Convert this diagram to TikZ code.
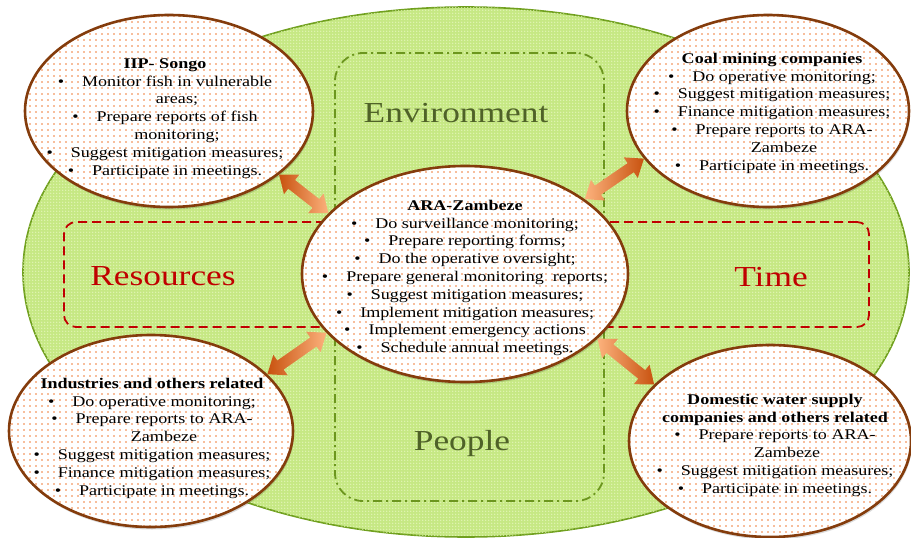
\documentclass[tikz,border=0pt]{standalone}
\usepackage{fontspec}
\setmainfont{Liberation Serif}[FakeStretch=1.22]
\usetikzlibrary{shapes.geometric,calc,patterns,patterns.meta,shadows}

\definecolor{leaf}{RGB}{198,232,132}
\definecolor{leaflight}{RGB}{232,247,192}
\definecolor{leafedge}{RGB}{112,160,30}
\definecolor{olivetext}{RGB}{79,98,40}
\definecolor{dashgreen}{RGB}{108,150,30}
\definecolor{crimson}{RGB}{192,0,0}
\definecolor{rust}{RGB}{132,60,12}
\definecolor{dotorange}{RGB}{240,125,55}
\definecolor{arrdark}{RGB}{200,82,15}
\definecolor{arrmid}{RGB}{248,118,30}
\definecolor{arrlight}{RGB}{252,178,125}

% fine grain for the green field and sparse dots for the actor ellipses
\tikzdeclarepattern{name=leafgrain, type=uncolored,
  bottom left={(-1pt,-1pt)}, top right={(2pt,2pt)}, tile size={(3pt,3pt)},
  code={\fill (0pt,0pt) circle (0.8pt);}}
\tikzdeclarepattern{name=orangedots, type=uncolored,
  bottom left={(-1pt,-1pt)}, top right={(5pt,5pt)}, tile size={(6pt,6pt)},
  code={\fill (0pt,0pt) circle (0.85pt);}}

\newcommand\itm{\textbullet\hspace{18pt}}
\newcommand\cont{\hspace*{24pt}}

% thick double-headed arrow between two border points, shaded from left to right
\newcommand\dblarrow[4]{%
  \path (#1) coordinate (p) (#2) coordinate (q)
    ($(p)!16pt!(q)$) coordinate (hp)
    ($(q)!16pt!(p)$) coordinate (hq);
  \shade[left color=#3, middle color=arrmid, right color=#4]
    (p) -- ($(hp)!12.5pt!90:(q)$) -- ($(hp)!5.5pt!90:(q)$)
    -- ($(hq)!5.5pt!-90:(p)$) -- ($(hq)!12.5pt!-90:(p)$) -- (q)
    -- ($(hq)!12.5pt!90:(p)$) -- ($(hq)!5.5pt!90:(p)$)
    -- ($(hp)!5.5pt!-90:(q)$) -- ($(hp)!12.5pt!-90:(q)$) -- cycle;
}

\begin{document}
\begin{tikzpicture}[x=1pt,y=-1pt,
  field/.style={ellipse, draw=leafedge, line width=1.6pt, fill=leaf,
    postaction={pattern=leafgrain, pattern color=leaflight}, inner sep=0pt},
  envbox/.style={draw=dashgreen, line width=1.8pt, rounded corners=28pt,
    dash pattern=on 9pt off 4pt on 2pt off 4pt, inner sep=0pt},
  resbox/.style={draw=crimson, line width=1.8pt, rounded corners=12pt,
    dash pattern=on 9pt off 5pt, inner sep=0pt},
  biggreen/.style={font=\fontsize{29pt}{34pt}\selectfont, text=olivetext, anchor=base, inner sep=0pt},
  bigred/.style={font=\fontsize{29pt}{34pt}\selectfont, text=crimson, anchor=base, inner sep=0pt},
  party/.style={ellipse, draw=rust, line width=2.6pt, inner sep=0pt,
    drop shadow={shadow xshift=1pt, shadow yshift=-2.5pt, opacity=0.15, fill=black},
    preaction={fill=white}, pattern=orangedots, pattern color=dotorange},
  copy/.style={font=\fontsize{14.8pt}{17.8pt}\selectfont, align=center, inner sep=0pt, anchor=north}
]
\useasboundingbox (0,0) rectangle (911,538);

% background field and the two framing boxes
\node[field, minimum width=886pt, minimum height=530pt] (field) at (466,272) {};
\node[envbox, minimum width=269pt, minimum height=448pt] (envbox) at (469.5,277) {};
\node[resbox, minimum width=805pt, minimum height=105pt] (resbox) at (466.5,274.5) {};

\node[biggreen] (env) at (456,122) {Environment};
\node[biggreen] (people) at (462,450) {People};
\node[bigred] (res) at (163,285) {Resources};
\node[bigred] (time) at (771,286) {Time};

% actors
\node[party, minimum width=288pt, minimum height=192pt] (songo) at (169,111) {};
\node[party, minimum width=282pt, minimum height=192pt] (coal) at (768,111) {};
\node[party, minimum width=326pt, minimum height=216pt] (ara) at (465,274) {};
\node[party, minimum width=284pt, minimum height=192pt] (ind) at (151,431) {};
\node[party, minimum width=282pt, minimum height=192pt] (dom) at (770,441) {};

\node[copy] (songo-t) at (165,57) {\rule{0pt}{11pt}\textbf{IIP- Songo}\\
  \itm Monitor fish in vulnerable\\ \cont areas;\\
  \itm Prepare reports of fish\\ \cont monitoring;\\
  \itm Suggest mitigation measures;\\
  \itm Participate in meetings.};

\node[copy] (coal-t) at (772,52) {\rule{0pt}{11pt}\textbf{Coal mining companies}\\
  \itm Do operative monitoring;\\
  \itm Suggest mitigation measures;\\
  \itm Finance mitigation measures;\\
  \itm Prepare reports to ARA-\\ \cont Zambeze\\
  \itm Participate in meetings.};

\node[copy] (ara-t) at (465,199) {\rule{0pt}{11pt}\textbf{ARA-Zambeze}\\
  \itm Do surveillance monitoring;\\
  \itm Prepare reporting forms;\\
  \itm Do the operative oversight;\\
  \itm Prepare general monitoring\ \ reports;\\
  \itm Suggest mitigation measures;\\
  \itm Implement mitigation measures;\\
  \itm Implement emergency actions\\
  \itm Schedule annual meetings.};

\node[copy] (ind-t) at (152,377) {\rule{0pt}{11pt}\textbf{Industries and others related}\\
  \itm Do operative monitoring;\\
  \itm Prepare reports to ARA-\\ \cont Zambeze\\
  \itm Suggest mitigation measures;\\
  \itm Finance mitigation measures;\\
  \itm Participate in meetings.};

\node[copy] (dom-t) at (775,393) {\rule{0pt}{11pt}\textbf{Domestic water supply}\\
  \textbf{companies and others related}\\
  \itm Prepare reports to ARA-\\ \cont Zambeze\\
  \itm Suggest mitigation measures;\\
  \itm Participate in meetings.};

% links between ARA-Zambeze and each actor
\dblarrow{songo.-30}{ara.156}{arrdark}{arrlight}
\dblarrow{ara.32}{coal.-159}{arrlight}{arrdark}
\dblarrow{ind.26}{ara.-157}{arrdark}{arrlight}
\dblarrow{ara.-26}{dom.154}{arrlight}{arrdark}
\end{tikzpicture}
\end{document}
